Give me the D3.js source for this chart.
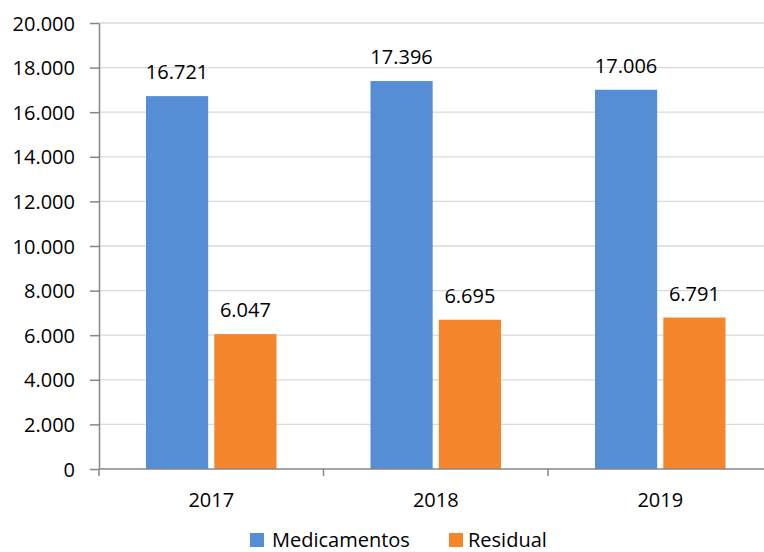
<!DOCTYPE html>
<html><head><meta charset="utf-8">
<script src="https://cdn.jsdelivr.net/npm/d3@7"></script>
<style>body{margin:0;background:#fff}svg{display:block}text{font-family:"Open Sans",Lato,sans-serif;fill:#000}</style>
</head><body><svg id="c" width="764" height="552"></svg>
<script>
const years = ["2017","2018","2019"];
const seriesNames = ["Medicamentos","Residual"];
const medicamentos = [16721, 17396, 17006];
const residual = [6047, 6695, 6791];
const yTicks = [0,2000,4000,6000,8000,10000,12000,14000,16000,18000,20000];
const colors = ["#558ED5","#F5852A"];

(function(){
const svg = d3.select("#c");
const pLeft = 99, pRight = 772.5, pTop = 23, pBottom = 469;
const fs = 20;
const y = d3.scaleLinear().domain([0,20000]).range([pBottom, pTop]);
const x0 = d3.scaleBand().domain(years).range([pLeft, pRight]).padding(0);
const pad = 47;
const x1 = d3.scaleBand().domain(seriesNames).range([pad, x0.bandwidth()-pad]).paddingInner(0.09);
const fmt = v => d3.format(",")(v).replace(/,/g, ".");

svg.append("g").selectAll("line").data(yTicks.filter(d=>d>0)).join("line")
  .attr("x1", pLeft).attr("x2", pRight).attr("y1", d=>y(d)).attr("y2", d=>y(d))
  .attr("stroke", "#d9d9d9").attr("stroke-width", 1.3);

const yAxis = d3.axisLeft(y).tickValues(yTicks).tickFormat(fmt).tickSize(9).tickSizeOuter(0);
const gy = svg.append("g").attr("transform", `translate(${pLeft},0)`).call(yAxis);
gy.select(".domain").attr("stroke", "#868686").attr("stroke-width", 1.5);
gy.selectAll(".tick line").attr("stroke", "#868686").attr("stroke-width", 1.5);
gy.selectAll(".tick text").attr("font-size", fs).attr("x", -24).attr("dy", "0.35em")
  .style("font-family", "'Open Sans', Lato, sans-serif").attr("fill", "#000");

const data = years.map((yr,i)=>({year:yr, values:[{k:seriesNames[0], v:medicamentos[i]},{k:seriesNames[1], v:residual[i]}]}));
const groups = svg.append("g").selectAll("g").data(data).join("g")
  .attr("transform", d=>`translate(${x0(d.year)},0)`);
groups.selectAll("rect").data(d=>d.values).join("rect")
  .attr("x", d=>x1(d.k)).attr("width", x1.bandwidth())
  .attr("y", d=>y(d.v)).attr("height", d=>pBottom - y(d.v))
  .attr("fill", (d,i)=>colors[i]);
groups.selectAll("text").data(d=>d.values).join("text")
  .attr("x", d=>x1(d.k)+x1.bandwidth()/2).attr("y", d=>y(d.v)-17)
  .attr("text-anchor", "middle").attr("font-size", fs).text(d=>fmt(d.v));

const gx = svg.append("g").attr("transform", `translate(0,${pBottom})`);
gx.append("line").attr("x1", pLeft).attr("x2", pRight).attr("stroke", "#868686").attr("stroke-width", 1.5);
const bounds = years.map(d=>x0(d)).concat([pRight]);
gx.selectAll("line.t").data(bounds).join("line").attr("class","t")
  .attr("x1", d=>d).attr("x2", d=>d).attr("y1", 0).attr("y2", 7)
  .attr("stroke", "#868686").attr("stroke-width", 1.5);
gx.selectAll("text").data(years).join("text")
  .attr("x", d=>x0(d)+x0.bandwidth()/2).attr("y", 38)
  .attr("text-anchor", "middle").attr("font-size", fs).text(d=>d);

const legend = svg.append("g");
const lx = [250, 449];
const tx = [272, 468];
seriesNames.forEach((n,i)=>{
  legend.append("rect").attr("x", lx[i]).attr("y", 533).attr("width", 14).attr("height", 14).attr("fill", colors[i]);
  legend.append("text").attr("x", tx[i]).attr("y", 547).attr("font-size", fs).text(n);
});
})();
</script></body></html>
